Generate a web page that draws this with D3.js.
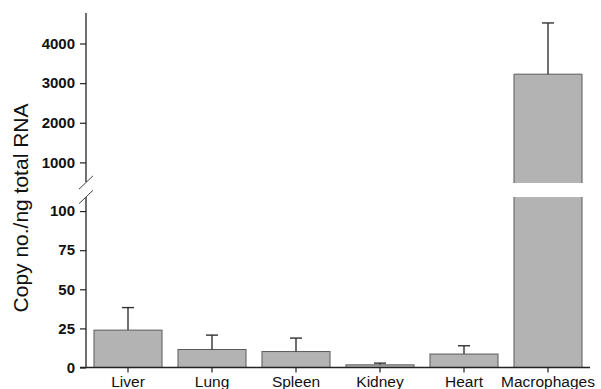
<!DOCTYPE html>
<html>
<head>
<meta charset="utf-8">
<script src="https://cdn.jsdelivr.net/npm/d3@7"></script>
<style>
  body { margin: 0; background: #fff; }
  svg { display: block; }
  svg text { font-family: "Liberation Sans", Arial, sans-serif; }
</style>
</head>
<body>
<svg id="chart" width="601" height="389"></svg>
<script>
// --- data ---
var tissues = ["Liver", "Lung", "Spleen", "Kidney", "Heart", "Macrophages"]
var copyNo = [23.9, 11.5, 10.2, 1.7, 8.6, 3226]
var copyErr = [14.4, 9.2, 8.6, 1.1, 5.3, 1293]
var lowTicks = [0, 25, 50, 75, 100]
var highTicks = [1000, 2000, 3000, 4000]

var svg = d3.select("#chart")

var axisX = 86
var x = d3.scaleBand().domain(tissues).range([axisX, 590])
  .paddingInner(0.19).paddingOuter(0.095)

// broken y axis: two segments
var yLow = d3.scaleLinear().domain([0, 109]).range([367.5, 197])
var yHigh = d3.scaleLinear().domain([480, 4770]).range([183, 13])

var barFill = "#b3b3b3"
var barLine = "#5a5a5a"
var ink = "#222"

var data = tissues.map(function(t, i) {
  return { name: t, v: copyNo[i], e: copyErr[i] }
})

function yPos(v) {
  return v > yLow.domain()[1] ? yHigh(v) : yLow(v)
}

var bars = svg.append("g")

data.forEach(function(d) {
  var x0 = x(d.name), w = x.bandwidth()
  if (d.v <= yLow.domain()[1]) {
    bars.append("rect")
      .attr("x", x0).attr("y", yLow(d.v))
      .attr("width", w).attr("height", yLow(0) - yLow(d.v))
      .attr("fill", barFill).attr("stroke", barLine).attr("stroke-width", 1)
  } else {
    // lower part up to the break
    var top1 = yLow(yLow.domain()[1])
    bars.append("rect")
      .attr("x", x0).attr("y", top1)
      .attr("width", w).attr("height", yLow(0) - top1)
      .attr("fill", barFill)
    bars.append("path")
      .attr("d", "M" + x0 + "," + top1 + "V" + yLow(0) + "H" + (x0 + w) + "V" + top1)
      .attr("fill", "none").attr("stroke", barLine).attr("stroke-width", 1)
    // upper part from the break
    var bot2 = yHigh(yHigh.domain()[0])
    bars.append("rect")
      .attr("x", x0).attr("y", yHigh(d.v))
      .attr("width", w).attr("height", bot2 - yHigh(d.v))
      .attr("fill", barFill)
    bars.append("path")
      .attr("d", "M" + x0 + "," + bot2 + "V" + yHigh(d.v) + "H" + (x0 + w) + "V" + bot2)
      .attr("fill", "none").attr("stroke", barLine).attr("stroke-width", 1)
  }
})

// error bars (upper only)
var cx = function(d) { return x(d.name) + x.bandwidth() / 2 }
var err = svg.append("g").attr("stroke", "#333").attr("stroke-width", 1.4)
data.forEach(function(d) {
  var yt = yPos(d.v + d.e)
  err.append("line").attr("x1", cx(d)).attr("x2", cx(d))
    .attr("y1", yPos(d.v)).attr("y2", yt)
  err.append("line").attr("x1", cx(d) - 6).attr("x2", cx(d) + 6)
    .attr("y1", yt).attr("y2", yt)
})

// y axes
function styleAxis(g) {
  g.attr("font-family", null).attr("font-size", null)
  g.select(".domain").remove()
  g.selectAll(".tick line").attr("stroke", ink).attr("stroke-width", 1.2)
  g.selectAll(".tick text")
    .attr("fill", "#111").style("font-size", "15px").style("font-weight", "bold")
}

svg.append("g").attr("transform", "translate(" + axisX + ",0)")
  .call(d3.axisLeft(yLow).tickValues(lowTicks).tickFormat(d3.format("d"))
    .tickSize(6).tickPadding(5))
  .call(styleAxis)

svg.append("g").attr("transform", "translate(" + axisX + ",0)")
  .call(d3.axisLeft(yHigh).tickValues(highTicks).tickFormat(d3.format("d"))
    .tickSize(6).tickPadding(5))
  .call(styleAxis)

svg.append("line")
  .attr("x1", axisX).attr("x2", axisX)
  .attr("y1", yLow(0)).attr("y2", yLow.range()[1])
  .attr("stroke", ink).attr("stroke-width", 1.3)
svg.append("line")
  .attr("x1", axisX).attr("x2", axisX)
  .attr("y1", yHigh.range()[0] - 1).attr("y2", yHigh.range()[1])
  .attr("stroke", ink).attr("stroke-width", 1.3)

// break marks
;[yHigh.range()[0] - 0.5, yLow.range()[1]].forEach(function(yy) {
  svg.append("line")
    .attr("x1", axisX - 7).attr("y1", yy + 6.7)
    .attr("x2", axisX + 7).attr("y2", yy - 6.7)
    .attr("stroke", "#444").attr("stroke-width", 1)
})

// x axis
var xg = svg.append("g").attr("transform", "translate(0," + yLow(0) + ")")
  .call(d3.axisBottom(x).tickSize(5).tickPadding(3).tickSizeOuter(0))
xg.attr("font-family", null).attr("font-size", null)
xg.select(".domain").attr("stroke", ink).attr("stroke-width", 1.4)
  .attr("d", "M" + (axisX - 6) + ",0H590")
xg.selectAll(".tick line").attr("stroke", ink).attr("stroke-width", 1.2)
xg.selectAll(".tick text").attr("fill", "#111").style("font-size", "15.5px")

// y title
svg.append("text")
  .attr("transform", "translate(28,208) rotate(-90)")
  .attr("text-anchor", "middle")
  .attr("fill", "#111")
  .style("font-size", "21px")
  .text("Copy no./ng total RNA")
</script>
</body>
</html>
